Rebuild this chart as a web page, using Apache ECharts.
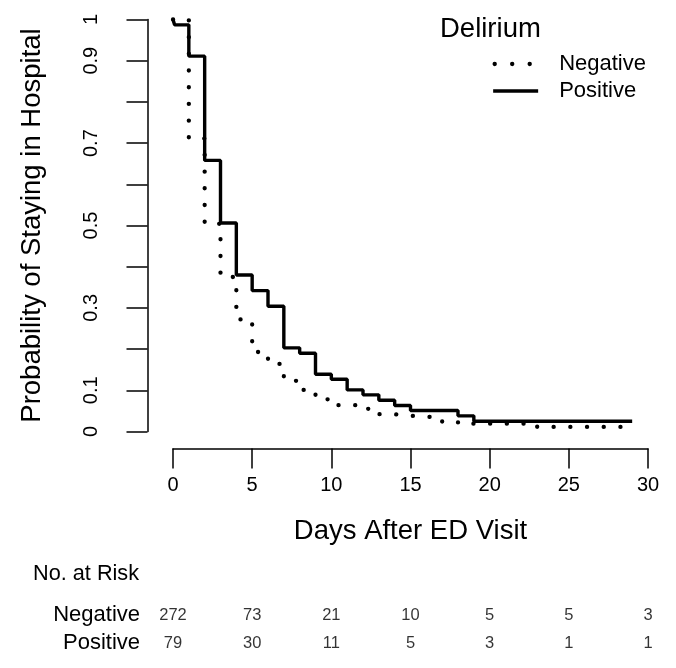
<!DOCTYPE html>
<html>
<head>
<meta charset="utf-8">
<script src="https://cdn.jsdelivr.net/npm/echarts/dist/echarts.min.js"></script>
<style>
html,body{margin:0;padding:0;background:#fff;}
#chart{width:676px;height:668px;}
</style>
</head>
<body>
<div id="chart"></div>
<script>
// ---- data ----
const negativeDays   = [0, 1, 2, 3, 4, 5, 6, 7, 8, 9, 10, 12, 13, 14, 15, 17, 18, 23, 29];
const negativeSurv   = [1, 0.711, 0.504, 0.375, 0.272, 0.193, 0.164, 0.123, 0.101, 0.078, 0.064, 0.055, 0.042, 0.038, 0.034, 0.024, 0.019, 0.011, 0.011];
const positiveDays   = [0, 0.1, 1, 2, 3, 4, 5, 6, 7, 8, 9, 10, 11, 12, 13, 14, 15, 18, 19, 29];
const positiveSurv   = [1, 0.987, 0.911, 0.658, 0.506, 0.380, 0.342, 0.304, 0.203, 0.190, 0.139, 0.127, 0.101, 0.089, 0.076, 0.063, 0.051, 0.038, 0.025, 0.025];
const riskDays       = [0, 5, 10, 15, 20, 25, 30];
const riskNegative   = [272, 73, 21, 10, 5, 5, 3];
const riskPositive   = [79, 30, 11, 5, 3, 1, 1];
const riskGroups     = ['Positive', 'Negative'];
const yTickLabels    = ['0', '0.1', '0.3', '0.5', '0.7', '0.9', '1'];

const FONT = 'Liberation Sans, Arial, Helvetica, sans-serif';
const zip = (xs, ys) => xs.map((x, i) => [x, ys[i]]);

const chart = echarts.init(document.getElementById('chart'), null, {renderer: 'canvas'});
chart.setOption({
  animation: false,
  backgroundColor: '#ffffff',
  textStyle: {fontFamily: FONT, color: '#000'},
  title: [
    {text: 'Delirium', left: 440, top: 15, padding: 0,
     textStyle: {fontFamily: FONT, fontSize: 27.5, fontWeight: 'normal', color: '#000'}},
    {text: 'No. at Risk', left: 33, top: 563, padding: 0,
     textStyle: {fontFamily: FONT, fontSize: 21.7, fontWeight: 'normal', color: '#000'}}
  ],
  legend: {
    orient: 'vertical', left: 491, top: 53, padding: 0,
    itemWidth: 45, itemHeight: 14, itemGap: 5,
    data: [
      {name: 'Negative', lineStyle: {color: '#000', width: 4.3, type: [0.1, 17.4], cap: 'round', dashOffset: -1.5}},
      {name: 'Positive', lineStyle: {color: '#000', width: 3.4, type: 'solid'}}
    ],
    itemStyle: {color: 'rgba(0,0,0,0)', borderColor: 'rgba(0,0,0,0)', borderWidth: 0},
    textStyle: {fontFamily: FONT, fontSize: 22, color: '#000', lineHeight: 22, padding: [0, 0, 0, 16]}
  },
  grid: [
    {left: 173, right: 28, top: 19.5, height: 412},
    {left: 173, right: 28, top: 601, height: 56}
  ],
  xAxis: [
    {gridIndex: 0, type: 'value', min: 0, max: 30, interval: 5, offset: 17,
     name: 'Days After ED Visit', nameLocation: 'middle', nameGap: 69,
     nameTextStyle: {fontFamily: FONT, fontSize: 27.5, color: '#000'},
     axisLine: {show: true, onZero: false, lineStyle: {color: '#000', width: 1.5}},
     axisTick: {show: true, length: 20, lineStyle: {color: '#000', width: 1.5}},
     axisLabel: {fontFamily: FONT, fontSize: 20, color: '#000', margin: 27},
     splitLine: {show: false}},
    {gridIndex: 1, type: 'value', min: 0, max: 30, show: false}
  ],
  yAxis: [
    {gridIndex: 0, type: 'value', min: 0, max: 1, interval: 0.1, offset: 25.5,
     name: 'Probability of Staying in Hospital', nameLocation: 'middle', nameGap: 101,
     nameTextStyle: {fontFamily: FONT, fontSize: 27.5, color: '#000'},
     axisLine: {show: true, onZero: false, lineStyle: {color: '#000', width: 1.5}},
     axisTick: {show: true, length: 21, lineStyle: {color: '#000', width: 1.5}},
     axisLabel: {fontFamily: FONT, fontSize: 20, color: '#000', rotate: 90, margin: 46,
       formatter: v => { const s = String(+(+v).toFixed(1)); return yTickLabels.includes(s) ? s : ''; }},
     splitLine: {show: false}},
    {gridIndex: 1, type: 'category', data: riskGroups,
     axisLine: {show: false}, axisTick: {show: false}, splitLine: {show: false},
     axisLabel: {fontFamily: FONT, fontSize: 22, color: '#000', margin: 33, interval: 0}}
  ],
  series: [
    {name: 'Negative', type: 'line', xAxisIndex: 0, yAxisIndex: 0, step: 'end',
     data: zip(negativeDays, negativeSurv), symbol: 'none', clip: false,
     lineStyle: {color: '#000', width: 4.3, type: [0.1, 16.6], cap: 'round'},
     itemStyle: {color: '#000'}},
    {name: 'Positive', type: 'line', xAxisIndex: 0, yAxisIndex: 0, step: 'end',
     data: zip(positiveDays, positiveSurv), symbol: 'none', clip: false,
     lineStyle: {color: '#000', width: 3.4, type: 'solid'},
     itemStyle: {color: '#000'}},
    {name: 'riskNeg', type: 'scatter', xAxisIndex: 1, yAxisIndex: 1, silent: true,
     data: riskDays.map((d, i) => [d, 'Negative', riskNegative[i]]),
     symbolSize: 1, itemStyle: {color: 'rgba(0,0,0,0)'},
     label: {show: true, position: 'inside', fontFamily: FONT, fontSize: 16.5, color: '#000',
             formatter: p => String(p.value[2])}},
    {name: 'riskPos', type: 'scatter', xAxisIndex: 1, yAxisIndex: 1, silent: true,
     data: riskDays.map((d, i) => [d, 'Positive', riskPositive[i]]),
     symbolSize: 1, itemStyle: {color: 'rgba(0,0,0,0)'},
     label: {show: true, position: 'inside', fontFamily: FONT, fontSize: 16.5, color: '#000',
             formatter: p => String(p.value[2])}}
  ]
});
</script>
</body>
</html>
